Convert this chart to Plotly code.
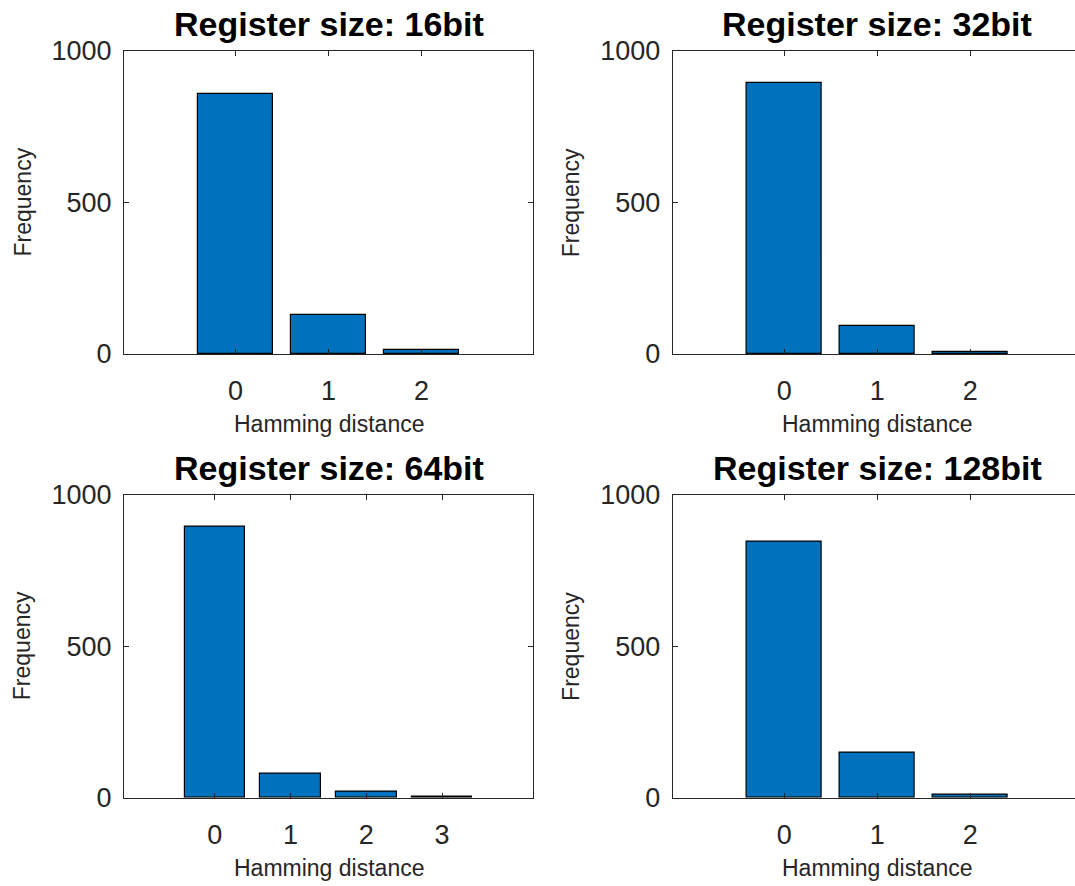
import plotly.graph_objects as go

# Data
titles = ["Register size: 16bit", "Register size: 32bit", "Register size: 64bit", "Register size: 128bit"]
dist_16 = [0, 1, 2]
freq_16 = [857, 128, 13]
dist_32 = [0, 1, 2]
freq_32 = [895, 93, 8]
dist_64 = [0, 1, 2, 3]
freq_64 = [894, 80, 20, 3]
dist_128 = [0, 1, 2]
freq_128 = [845, 147, 9]

W, H = 1075, 886
BAR_COLOR = "#0072BD"
AX_COLOR = "#262626"
FONT = "Liberation Sans, Arial, Helvetica, sans-serif"

# pixel layout of the four axes: (x0, x1, ytop, ybottom)
panels = [
    (124, 533, 51, 354),
    (672.7, 1075, 51, 354),
    (124, 533, 494.7, 797.7),
    (672.7, 1075, 494.7, 797.7),
]
xranges = [[-1.2, 3.2], [-1.2, 3.126], [-1.2, 4.2], [-1.2, 3.126]]
cut_right = [False, True, False, True]
data = [(dist_16, freq_16), (dist_32, freq_32), (dist_64, freq_64), (dist_128, freq_128)]

fig = go.Figure()
annotations = []
for i, ((x0, x1, yt, yb), (xs, ys)) in enumerate(zip(panels, data)):
    n = "" if i == 0 else str(i + 1)
    fig.add_trace(go.Bar(
        x=xs, y=ys, width=0.8,
        marker=dict(color=BAR_COLOR, line=dict(color="black", width=1.2)),
        xaxis="x" + n, yaxis="y" + n, showlegend=False,
    ))
    xd = [x0 / W, x1 / W]
    yd = [1 - yb / H, 1 - yt / H]
    fig.layout["xaxis" + n] = dict(
        domain=xd, anchor="y" + n, range=xranges[i], automargin=False,
        tickvals=xs, ticktext=[str(v) for v in xs],
        ticks="inside", ticklen=5, tickcolor=AX_COLOR, tickwidth=1,
        showline=True, linecolor=AX_COLOR, linewidth=1, mirror="ticks",
        showgrid=False, zeroline=False,
        tickfont=dict(family=FONT, size=27, color=AX_COLOR),
        ticklabelstandoff=13,
    )
    fig.layout["yaxis" + n] = dict(
        domain=yd, anchor="x" + n, range=[0, 1000], automargin=False,
        tickvals=[0, 500, 1000],
        ticks="inside", ticklen=5, tickcolor=AX_COLOR, tickwidth=1,
        showline=True, linecolor=AX_COLOR, linewidth=1,
        mirror=False if cut_right[i] else "ticks",
        showgrid=False, zeroline=False,
        tickfont=dict(family=FONT, size=27, color=AX_COLOR),
        ticklabelstandoff=6,
    )
    xc = (x0 + x0 + 409) / 2
    annotations.append(dict(
        text="<b>" + titles[i] + "</b>", xref="paper", yref="paper",
        x=xc / W, y=1 - (yt - 27) / H, xanchor="center", yanchor="middle",
        showarrow=False, font=dict(family=FONT, size=34, color="black"),
    ))
    annotations.append(dict(
        text="Hamming distance", xref="paper", yref="paper",
        x=xc / W, y=1 - (yb + 70) / H, xanchor="center", yanchor="middle",
        showarrow=False, font=dict(family=FONT, size=23, color=AX_COLOR),
    ))
    annotations.append(dict(
        text="Frequency", xref="paper", yref="paper", textangle=-90,
        x=(x0 - 102) / W, y=1 - ((yt + yb) / 2) / H, xanchor="center", yanchor="middle",
        showarrow=False, font=dict(family=FONT, size=23, color=AX_COLOR),
    ))

fig.update_layout(
    width=W, height=H,
    margin=dict(l=0, r=0, t=0, b=0, autoexpand=False),
    paper_bgcolor="white", plot_bgcolor="white",
    annotations=annotations,
    bargap=0,
)
fig.write_html("out.html")
